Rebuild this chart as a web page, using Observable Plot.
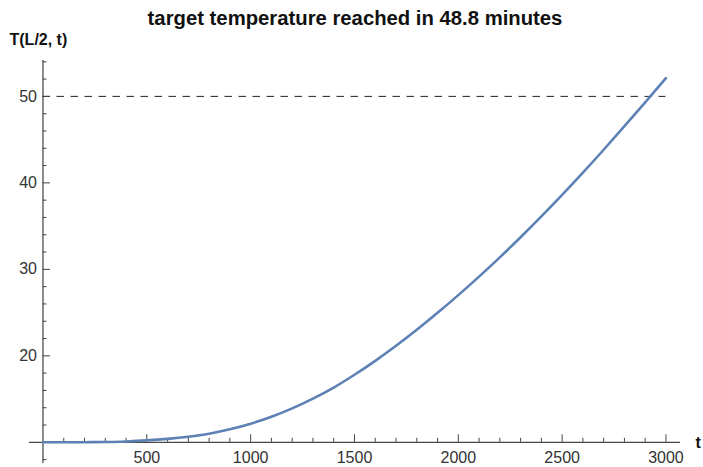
<!DOCTYPE html>
<html>
<head>
<meta charset="utf-8">
<script src="https://cdn.jsdelivr.net/npm/d3@7"></script>
<script src="https://cdn.jsdelivr.net/npm/@observablehq/plot@0.6"></script>
<style>
  html, body { margin: 0; padding: 0; background: #fff; }
  #chart svg { display: block; }
</style>
</head>
<body>
<div id="chart"></div>
<script>
// ---- data ----
const timeS = [0, 100, 200, 300, 400, 500, 600, 700, 800, 900, 1000, 1100, 1200, 1300, 1400, 1500,
  1600, 1700, 1800, 1900, 2000, 2100, 2200, 2300, 2400, 2500, 2600, 2700, 2800, 2900, 3000];
const tempCenter = [10.0, 10.0, 10.01, 10.04, 10.1, 10.22, 10.4, 10.65, 11.0, 11.5, 12.15, 12.95, 13.92, 15.05, 16.33, 17.81,
  19.42, 21.16, 23.01, 24.97, 27.02, 29.16, 31.39, 33.71, 36.12, 38.61, 41.18, 43.83, 46.55, 49.31, 52.11];
const targetTemp = 50;
const initialTemp = 10;
const xMajorTicks = [500, 1000, 1500, 2000, 2500, 3000];
const yMajorTicks = [20, 30, 40, 50];
const xMinorTicks = d3.range(100, 3001, 100).filter(v => v % 500 !== 0);
const yMinorTicks = [8, 12, 14, 16, 18, 22, 24, 26, 28, 32, 34, 36, 38, 42, 44, 46, 48, 52, 54];
const titleText = "target temperature reached in 48.8 minutes";
const yLabel = "T(L/2, t)";
const xLabel = "t";

// ---- layout ----
const W = 703, H = 467;
const mt = 60, mb = 4, ml = 29, mr = 23;
const xDom = [-65, 3070], yDom = [7.55, 54.15];
const pxPerX = (W - ml - mr) / (xDom[1] - xDom[0]);
const pxPerY = (H - mt - mb) / (yDom[1] - yDom[0]);
const majorLen = 7.5, minorLen = 4;

const series = timeS.map((t, i) => ({t, T: tempCenter[i]}));
const font = "Liberation Sans, Arial, Helvetica, sans-serif";
const axisColor = "#1a1a1a";
const tickColor = "#444";
const labelColor = "#333";

const plot = Plot.plot({
  width: W, height: H,
  marginTop: mt, marginBottom: mb, marginLeft: ml, marginRight: mr,
  style: {fontFamily: font, background: "#fff", overflow: "visible"},
  x: {domain: xDom, axis: null},
  y: {domain: yDom, axis: null},
  marks: [
    // dashed target line
    Plot.ruleY([targetTemp], {x1: 0, x2: 3000, stroke: "#222", strokeWidth: 1, strokeDasharray: "7.5,6.5"}),
    // axes lines
    Plot.ruleY([initialTemp], {x1: xDom[0], x2: xDom[1], stroke: axisColor, strokeWidth: 1}),
    Plot.ruleX([0], {y1: yDom[0], y2: yDom[1], stroke: axisColor, strokeWidth: 1}),
    // x ticks (upward)
    Plot.ruleX(xMajorTicks, {x: d => d, y1: initialTemp, y2: initialTemp + majorLen / pxPerY, stroke: tickColor, strokeWidth: 1}),
    Plot.ruleX(xMinorTicks, {x: d => d, y1: initialTemp, y2: initialTemp + minorLen / pxPerY, stroke: tickColor, strokeWidth: 1}),
    // y ticks (rightward)
    Plot.ruleY(yMajorTicks, {y: d => d, x1: 0, x2: majorLen / pxPerX, stroke: tickColor, strokeWidth: 1}),
    Plot.ruleY(yMinorTicks, {y: d => d, x1: 0, x2: minorLen / pxPerX, stroke: tickColor, strokeWidth: 1}),
    // tick labels
    Plot.text(xMajorTicks, {x: d => d, y: initialTemp, text: d => String(d), dy: 21, lineAnchor: "bottom", fontSize: 16, fill: labelColor}),
    Plot.text(yMajorTicks, {x: 0, y: d => d, text: d => String(d), dx: -6, textAnchor: "end", fontSize: 16, fill: labelColor}),
    // curve
    Plot.line(series, {x: "t", y: "T", curve: "monotone-x", stroke: "#5E81B5", strokeWidth: 2.6}),
    // axis labels
    Plot.text([yLabel], {frameAnchor: "top-left", text: d => d, textAnchor: "start", lineAnchor: "bottom", dx: -20, dy: -16, fontSize: 16, fontWeight: "bold", fill: "#111"}),
    Plot.text([xLabel], {x: xDom[1], y: initialTemp, text: d => d, textAnchor: "start", lineAnchor: "bottom", dx: 15, dy: 6, fontSize: 16, fontWeight: "bold", fill: "#111"}),
    // title
    Plot.text([titleText], {frameAnchor: "top", text: d => d, lineAnchor: "bottom", dy: -36, fontSize: 20.3, fontWeight: "bold", fill: "#111"})
  ]
});
document.getElementById("chart").appendChild(plot);
</script>
</body>
</html>
